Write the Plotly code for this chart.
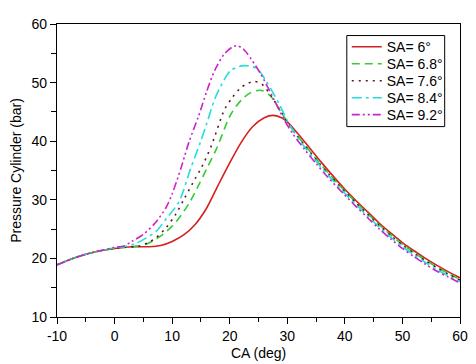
import plotly.graph_objects as go

# Data (CA in deg, pressure in bar)
ca_sa60 = [-10, -7.5, -5, -2.5, 0, 3, 6, 8, 10, 12, 14, 16, 18, 20, 22, 24, 26, 27.5, 29, 30, 32, 34, 36, 38, 40, 42, 44, 46, 48, 50, 52, 54, 56, 58, 60]
p_sa60 = [18.9, 19.9, 20.7, 21.3, 21.7, 22.0, 22.0, 22.2, 22.9, 24.0, 25.8, 28.6, 32.5, 36.3, 39.8, 42.5, 44.0, 44.4, 44.0, 43.3, 41.1, 38.7, 36.3, 34.0, 31.8, 29.8, 27.9, 26.0, 24.3, 22.7, 21.3, 20.0, 18.8, 17.7, 16.7]

ca_sa68 = [-10, -7.5, -5, -2.5, 0, 2, 4, 5.5, 7, 8.4, 10, 11.2, 13, 14.6, 16, 17.7, 20.2, 22, 23.5, 25.3, 27, 29, 31, 33, 35, 37, 40, 42, 44, 46, 48, 50, 52, 54, 56, 58, 60]
p_sa68 = [18.9, 19.9, 20.7, 21.3, 21.7, 21.9, 22.1, 22.4, 23.2, 24.1, 25.5, 26.9, 29.5, 32.5, 35.3, 38.7, 44.6, 47.0, 48.2, 48.7, 47.8, 44.8, 41.9, 39.4, 37.0, 34.7, 31.5, 29.5, 27.6, 25.7, 24.0, 22.4, 21.0, 19.7, 18.5, 17.4, 16.4]

ca_sa76 = [-10, -7.5, -5, -2.5, 0, 2, 4.4, 6, 7.2, 9, 10.6, 12, 14, 15.1, 16.8, 19.1, 20.5, 21.9, 23, 24.2, 25.5, 27, 29, 31, 33, 35, 37, 40, 42, 44, 46, 48, 50, 52, 54, 56, 58, 60]
p_sa76 = [18.9, 19.9, 20.7, 21.3, 21.7, 21.9, 22.1, 22.8, 23.5, 25.3, 27.5, 30.0, 33.6, 35.5, 39.2, 45.4, 47.5, 49.1, 49.8, 50.2, 49.8, 48.0, 44.9, 41.8, 39.3, 36.9, 34.6, 31.4, 29.4, 27.5, 25.6, 23.9, 22.3, 20.9, 19.6, 18.4, 17.3, 16.3]

ca_sa84 = [-10, -7.5, -5, -2.5, 0, 1.5, 3.3, 5, 7.2, 9, 11.2, 13.2, 14.9, 16, 17.4, 18.5, 20.2, 22.5, 24.7, 26.5, 28.5, 30.5, 33, 35, 37, 40, 42, 44, 46, 48, 50, 52, 54, 56, 58, 60]
p_sa84 = [18.9, 19.9, 20.7, 21.3, 21.8, 22.0, 22.4, 23.2, 24.6, 26.8, 29.7, 35.3, 39.8, 43.0, 47.2, 49.5, 52.1, 52.9, 52.4, 50.0, 46.5, 42.6, 39.0, 36.6, 34.3, 31.1, 29.1, 27.2, 25.3, 23.6, 22.0, 20.6, 19.3, 18.1, 17.0, 16.0]

ca_sa92 = [-10, -7.5, -5, -2.5, 0, 1.6, 3, 5, 7, 8.9, 10, 11.5, 12.9, 14.6, 16, 17.4, 19, 20.5, 21.3, 22.3, 23.1, 25.3, 27.5, 29.5, 31, 33, 35, 37, 40, 42, 44, 46, 48, 50, 52, 54, 56, 58, 60]
p_sa92 = [18.9, 19.9, 20.7, 21.3, 21.9, 22.1, 22.9, 24.1, 26.0, 28.6, 31.0, 35.3, 39.8, 44.3, 48.5, 52.1, 54.8, 56.1, 56.3, 55.8, 54.9, 51.6, 47.5, 43.6, 41.2, 38.6, 36.2, 33.9, 30.8, 28.8, 26.9, 25.0, 23.3, 21.7, 20.3, 19.0, 17.8, 16.8, 15.8]

series_names = ["SA= 6°", "SA= 6.8°", "SA= 7.6°", "SA= 8.4°", "SA= 9.2°"]
series_x = [ca_sa60, ca_sa68, ca_sa76, ca_sa84, ca_sa92]
series_y = [p_sa60, p_sa68, p_sa76, p_sa84, p_sa92]
colors = ["#d42020", "#33cc33", "#5a1a1a", "#22dddd", "#cc22cc"]
dashes = ["solid", "8px,5px", "2px,5px", "10px,4px,3px,4px", "8px,3px,2px,3px,2px,3px"]

x_ticks = [-10, 0, 10, 20, 30, 40, 50, 60]
y_ticks = [10, 20, 30, 40, 50, 60]
x_title = "CA (deg)"
y_title = "Pressure Cylinder (bar)"

font = "Liberation Sans, Arial, sans-serif"

# legend layout (paper coordinates)
legend_left = 0.719
legend_rows = [0.9209, 0.8630, 0.8051, 0.7471, 0.6892]
legend_box = dict(x0=0.7191, x1=0.962, y0=0.6498, y1=0.9606)

fig = go.Figure()
legend_ids = ["legend", "legend2", "legend3", "legend4", "legend5"]
for name, xs, ys, c, d, lid in zip(series_names, series_x, series_y, colors, dashes, legend_ids):
    fig.add_trace(go.Scatter(x=xs, y=ys, mode="lines", name=name, legend=lid,
                             line=dict(color=c, width=1.6, dash=d, shape="spline", smoothing=0.8)))

axis_common = dict(showline=True, linecolor="black", linewidth=1.3, mirror=True,
                   ticks="outside", tickwidth=1.2, tickcolor="black",
                   showgrid=False, zeroline=False,
                   tickfont=dict(family=font, size=14, color="black"))

fig.update_xaxes(range=[-10, 60], tickvals=x_ticks, ticktext=[str(v) for v in x_ticks], ticklen=6,
                 minor=dict(dtick=5, ticks="outside", ticklen=3.5, tickcolor="black", tickwidth=1.2),
                 **axis_common)
fig.update_yaxes(range=[10, 60], tickvals=y_ticks, ticktext=[str(v) for v in y_ticks], ticklen=6,
                 minor=dict(dtick=5, ticks="outside", ticklen=5, tickcolor="black", tickwidth=1.2),
                 title=dict(text=y_title, font=dict(family=font, size=14, color="black"), standoff=6),
                 **axis_common)

legends = {}
for lid, yy in zip(legend_ids, legend_rows):
    legends[lid] = dict(x=legend_left, y=yy, xanchor="left", yanchor="middle",
                        bgcolor="rgba(0,0,0,0)", borderwidth=0,
                        font=dict(family=font, size=14, color="black"),
                        itemwidth=30)

# the page body has a default 8px margin, so the figure is sized 8px smaller
fig.update_layout(
    width=468, height=356,
    margin=dict(l=47, r=8, t=13, b=47),
    plot_bgcolor="white", paper_bgcolor="white",
    showlegend=True,
    **legends,
)
fig.add_annotation(text=x_title, xref="paper", yref="paper", x=0.5, y=-0.122,
                   xanchor="center", yanchor="middle", showarrow=False,
                   font=dict(family=font, size=14, color="black"))
fig.add_shape(type="rect", xref="paper", yref="paper", layer="above",
              line=dict(color="black", width=1), fillcolor="rgba(0,0,0,0)", **legend_box)

fig.write_html("out.html")
